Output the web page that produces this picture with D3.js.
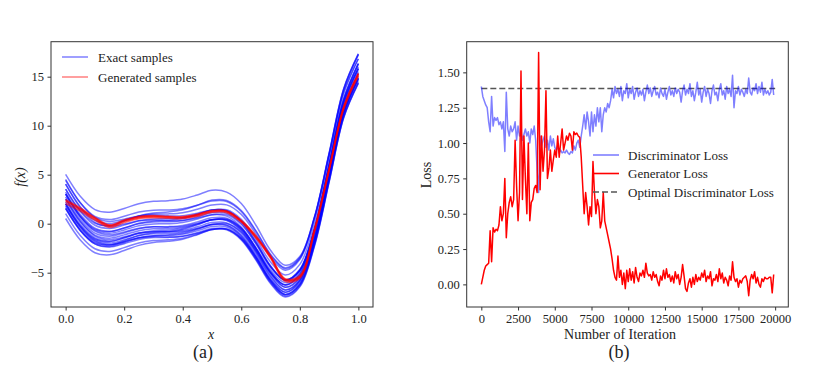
<!DOCTYPE html>
<html lang="en">
<head>
    <meta charset="UTF-8">
    <title>GAN samples and losses</title>
    <script src="https://d3js.org/d3.v7.min.js"></script>
    <style>
        body { margin: 0; background: #fff; }
        svg text { font-family: "Liberation Serif", "DejaVu Serif", serif; }
        .tick text { font-size: 12.5px; fill: #222; font-family: "Liberation Serif", serif; }
        .tick line { stroke: #333; }
        .lbl { font-size: 14px; fill: #222; }
        .leg { font-size: 13px; fill: #222; }
        .cap { font-size: 18px; fill: #222; }
    </style>
</head>
<body>
<script>
    // ---- left panel: samples of f(x) ----
    var xGrid = [0, 0.05, 0.1, 0.15, 0.2, 0.25, 0.3, 0.35, 0.4, 0.45, 0.5,
                 0.55, 0.6, 0.65, 0.7, 0.75, 0.8, 0.85, 0.9, 0.95, 1.0];

    var exactSamples = [
        [5.03, 2.79, 1.44, 1.17, 1.56, 2.04, 2.28, 2.35, 2.52, 2.93, 3.41, 3.22, 2.05, -0.16, -2.71, -4.24, -3.35, 0.65, 7.01, 13.45, 16.83],
        [0.53, -1.66, -2.96, -3.18, -2.74, -2.21, -1.92, -1.80, -1.58, -1.12, -0.59, -0.63, -1.65, -3.71, -6.11, -7.49, -6.45, -2.30, 4.21, 10.80, 14.33],
        [4.03, 1.74, 0.34, 0.02, 0.36, 0.79, 0.98, 1.00, 1.12, 1.48, 1.91, 1.92, 0.95, -1.06, -3.41, -4.74, -3.65, 0.55, 7.11, 13.75, 17.33],
        [3.53, 1.24, -0.16, -0.48, -0.14, 0.29, 0.48, 0.50, 0.62, 0.98, 1.41, 1.32, 0.25, -1.86, -4.31, -5.74, -4.75, -0.65, 5.81, 12.35, 15.83],
        [3.03, 0.69, -0.76, -1.13, -0.84, -0.46, -0.32, -0.35, -0.28, 0.03, 0.41, 0.47, -0.45, -2.41, -4.71, -5.99, -4.85, -0.60, 6.01, 12.70, 16.33],
        [2.53, 0.24, -1.16, -1.48, -1.14, -0.71, -0.52, -0.50, -0.38, -0.02, 0.41, 0.37, -0.65, -2.71, -5.11, -6.49, -5.45, -1.30, 5.21, 11.80, 15.33],
        [2.03, -0.21, -1.56, -1.83, -1.44, -0.96, -0.72, -0.65, -0.48, -0.07, 0.41, 0.42, -0.55, -2.56, -4.91, -6.24, -5.15, -0.95, 5.61, 12.25, 15.83],
        [1.53, -0.71, -2.06, -2.33, -1.94, -1.46, -1.22, -1.15, -0.98, -0.57, -0.09, -0.13, -1.15, -3.21, -5.61, -6.99, -5.95, -1.80, 4.71, 11.30, 14.83],
        [1.03, -1.21, -2.56, -2.83, -2.44, -1.96, -1.72, -1.65, -1.48, -1.07, -0.59, -0.58, -1.55, -3.56, -5.91, -7.24, -6.15, -1.95, 4.61, 11.25, 14.83],
        [4.53, 2.14, 0.64, 0.22, 0.46, 0.79, 0.88, 0.80, 0.82, 1.08, 1.41, 1.42, 0.45, -1.56, -3.91, -5.24, -4.15, 0.05, 6.61, 13.25, 16.83],
        [3.03, 0.74, -0.66, -0.98, -0.64, -0.21, -0.02, 0.00, 0.12, 0.48, 0.91, 0.77, -0.35, -2.51, -5.01, -6.49, -5.55, -1.50, 4.91, 11.40, 14.83],
        [2.03, -0.31, -1.76, -2.13, -1.84, -1.46, -1.32, -1.35, -1.28, -0.97, -0.59, -0.53, -1.45, -3.41, -5.71, -6.99, -5.85, -1.60, 5.01, 11.70, 15.33],
        [3.53, 1.34, 0.04, -0.18, 0.26, 0.79, 1.08, 1.20, 1.42, 1.88, 2.41, 2.37, 1.35, -0.71, -3.11, -4.49, -3.45, 0.70, 7.21, 13.80, 17.33],
        [2.53, 0.19, -1.26, -1.63, -1.34, -0.96, -0.82, -0.85, -0.78, -0.47, -0.09, 0.02, -0.85, -2.76, -5.01, -6.24, -5.05, -0.75, 5.91, 12.65, 16.33],
        [4.03, 1.64, 0.14, -0.28, -0.04, 0.29, 0.38, 0.30, 0.32, 0.58, 0.91, 0.92, -0.05, -2.06, -4.41, -5.74, -4.65, -0.45, 6.11, 12.75, 16.33],
        [1.53, -0.66, -1.96, -2.18, -1.74, -1.21, -0.92, -0.80, -0.58, -0.12, 0.41, 0.32, -0.75, -2.86, -5.31, -6.74, -5.75, -1.65, 4.81, 11.35, 14.83],
        [3.03, 0.79, -0.56, -0.83, -0.44, 0.04, 0.28, 0.35, 0.52, 0.93, 1.41, 1.32, 0.25, -1.86, -4.31, -5.74, -4.75, -0.65, 5.81, 12.35, 15.83],
        [2.03, -0.26, -1.66, -1.98, -1.64, -1.21, -1.02, -1.00, -0.88, -0.52, -0.09, -0.18, -1.25, -3.36, -5.81, -7.24, -6.25, -2.15, 4.31, 10.85, 14.33],
        [2.73, 0.44, -0.96, -1.28, -0.94, -0.51, -0.32, -0.30, -0.18, 0.18, 0.61, 0.57, -0.45, -2.51, -4.91, -6.29, -5.25, -1.10, 5.41, 12.00, 15.53],
        [2.23, -0.06, -1.46, -1.78, -1.44, -1.01, -0.82, -0.80, -0.68, -0.32, 0.11, 0.07, -0.95, -3.01, -5.41, -6.79, -5.75, -1.60, 4.91, 11.50, 15.03],
        [1.83, -0.46, -1.86, -2.18, -1.84, -1.41, -1.22, -1.20, -1.08, -0.72, -0.29, -0.33, -1.35, -3.41, -5.81, -7.19, -6.15, -2.00, 4.51, 11.10, 14.63],
        [3.23, 0.94, -0.46, -0.78, -0.44, -0.01, 0.18, 0.20, 0.32, 0.68, 1.11, 1.07, 0.05, -2.01, -4.41, -5.79, -4.75, -0.60, 5.91, 12.50, 16.03],
        [1.63, -0.66, -2.06, -2.38, -2.04, -1.61, -1.42, -1.40, -1.28, -0.92, -0.49, -0.53, -1.55, -3.61, -6.01, -7.39, -6.35, -2.20, 4.31, 10.90, 14.43],
        [4.43, 2.14, 0.74, 0.42, 0.76, 1.19, 1.38, 1.40, 1.52, 1.88, 2.31, 2.27, 1.25, -0.81, -3.21, -4.59, -3.55, 0.60, 7.11, 13.70, 17.23]
    ];

    var generatedSamples = [
        [2.25, 1.45, 0.50, -0.25, 0.25, 0.62, 0.72, 0.66, 0.62, 0.85, 1.25, 1.22, 0.25, -1.35, -3.40, -5.75, -5.45, -0.70, 5.50, 11.80, 15.20],
        [2.45, 1.62, 0.65, -0.12, 0.38, 0.74, 0.82, 0.76, 0.72, 0.95, 1.35, 1.30, 0.35, -1.22, -3.28, -5.62, -5.30, -0.55, 5.62, 11.95, 15.35],
        [2.05, 1.28, 0.36, -0.38, 0.12, 0.52, 0.62, 0.57, 0.53, 0.76, 1.16, 1.13, 0.15, -1.47, -3.52, -5.87, -5.58, -0.85, 5.38, 11.65, 15.05],
        [2.35, 1.50, 0.55, -0.20, 0.30, 0.68, 0.78, 0.70, 0.66, 0.90, 1.30, 1.26, 0.28, -1.30, -3.36, -5.70, -5.40, -0.65, 5.55, 11.88, 15.28]
    ];

    var fxTicksX = [0, 0.2, 0.4, 0.6, 0.8, 1.0];
    var fxTicksY = [-5, 0, 5, 10, 15];

    // ---- right panel: losses, one value every 100 iterations ----
    var lossStep = 100;
    var genLoss = [
        0.00, 0.05, 0.10, 0.13, 0.14, 0.15, 0.38, 0.16, 0.40, 0.37,
        0.39, 0.38, 0.42, 0.55, 0.45, 0.50, 0.75, 0.33, 0.50, 0.58,
        0.62, 0.55, 0.60, 1.02, 0.70, 0.45, 0.65, 1.51, 0.60, 1.05,
        0.75, 0.50, 1.00, 0.45, 0.58, 0.60, 0.68, 0.70, 0.65, 1.64,
        0.67, 1.05, 0.80, 0.95, 1.37, 0.75, 0.82, 0.95, 0.80, 0.88,
        0.95, 0.90, 1.05, 0.90, 1.00, 1.10, 0.95, 1.00, 1.05, 1.02,
        1.07, 1.05, 0.95, 1.08, 1.06, 1.07, 1.05, 1.04, 0.90, 0.70,
        0.50, 0.65, 0.55, 0.42, 0.55, 0.48, 0.87, 0.65, 0.50, 0.60,
        0.55, 0.40, 0.45, 0.65, 0.45, 0.40, 0.35, 0.30, 0.25, 0.18,
        0.10, 0.05, 0.03, 0.20, 0.05, 0.10, 0.00, 0.08, -0.03, 0.10,
        0.02, 0.11, 0.03, 0.09, 0.01, 0.12, 0.05, 0.02, 0.08, 0.06,
        0.10, 0.05, 0.15, 0.08, 0.06, 0.07, 0.03, 0.09, 0.05, 0.07,
        0.02, -0.01, 0.06, 0.03, 0.10, 0.04, 0.11, 0.05, 0.07, 0.02,
        0.06, 0.01, 0.09, 0.04, 0.07, 0.00, 0.05, 0.14, 0.06, -0.03,
        -0.05, 0.01, 0.04, -0.02, 0.05, 0.00, 0.07, 0.02, 0.05, 0.03,
        0.08, 0.05, 0.10, 0.02, 0.06, 0.04, 0.09, -0.01, 0.04, 0.03,
        0.07, 0.02, 0.11, 0.04, 0.08, 0.01, 0.05, 0.03, -0.01, 0.06,
        0.03, 0.16, 0.05, 0.02, 0.04, -0.02, 0.03, 0.01, 0.04, 0.05,
        0.06, 0.02, -0.08, 0.03, 0.07, 0.04, 0.09, 0.01, 0.05, 0.00,
        -0.02, 0.04, 0.02, 0.05, 0.04, 0.04, 0.05, 0.05, -0.06, 0.07
    ];
    var discLoss = [
        1.40, 1.33, 1.30, 1.27, 1.25, 1.15, 1.08, 1.33, 1.12, 1.18,
        1.16, 1.18, 1.13, 1.15, 1.10, 1.15, 0.94, 1.36, 1.10, 1.05,
        1.12, 1.08, 1.10, 1.15, 1.02, 1.12, 1.05, 1.08, 1.02, 1.06,
        1.10, 1.05, 1.08, 1.00, 1.10, 1.06, 1.12, 1.02, 0.80, 0.65,
        1.05, 0.98, 1.02, 1.05, 0.97, 1.02, 0.95, 1.05, 0.98, 1.03,
        0.97, 0.95, 0.98, 0.93, 0.95, 0.93, 0.94, 0.93, 0.95, 0.93,
        0.92, 0.94, 0.93, 0.98, 0.95, 1.00, 1.02, 0.97, 1.05, 1.12,
        1.20, 1.10, 1.22, 1.15, 1.05, 1.22, 1.08, 1.20, 1.12, 1.25,
        1.15, 1.25, 1.08, 1.20, 1.25, 1.22, 1.28, 1.25, 1.30, 1.38,
        1.32, 1.40, 1.35, 1.38, 1.33, 1.40, 1.30, 1.37, 1.35, 1.42,
        1.32, 1.38, 1.35, 1.40, 1.31, 1.36, 1.39, 1.33, 1.37, 1.34,
        1.38, 1.30, 1.36, 1.41, 1.35, 1.39, 1.33, 1.37, 1.40, 1.34,
        1.36, 1.32, 1.39, 1.35, 1.33, 1.38, 1.31, 1.36, 1.40, 1.34,
        1.37, 1.33, 1.39, 1.35, 1.38, 1.36, 1.29, 1.37, 1.41, 1.34,
        1.38, 1.35, 1.42, 1.33, 1.37, 1.30, 1.36, 1.43, 1.34, 1.38,
        1.29, 1.36, 1.40, 1.33, 1.38, 1.35, 1.28, 1.37, 1.41, 1.34,
        1.36, 1.30, 1.38, 1.42, 1.34, 1.37, 1.31, 1.40, 1.35, 1.38,
        1.33, 1.48, 1.25, 1.37, 1.35, 1.40, 1.34, 1.38, 1.36, 1.33,
        1.38, 1.35, 1.46, 1.36, 1.34, 1.39, 1.37, 1.42, 1.35, 1.40,
        1.36, 1.43, 1.34, 1.38, 1.35, 1.37, 1.34, 1.36, 1.45, 1.34
    ];
    var optimalLoss = 1.386;
    var lossTicksX = [0, 2500, 5000, 7500, 10000, 12500, 15000, 17500, 20000];
    var lossTicksY = [0, 0.25, 0.5, 0.75, 1.0, 1.25, 1.5];

    var w = 830, h = 372;
    var svg = d3.select("body").append("svg")
        .attr("width", w)
        .attr("height", h);

    var plotTop = 41.7, plotBottom = 307;

    // ================= left =================
    var xL = d3.scaleLinear().domain([-0.05, 1.05]).range([51, 373]);
    var yL = d3.scaleLinear().domain([-8.5, 18.57]).range([plotBottom, plotTop]);

    var lineL = d3.line()
        .x(function (d, i) { return xL(xGrid[i]); })
        .y(function (d) { return yL(d); })
        .curve(d3.curveCatmullRom.alpha(0.5));

    var gL = svg.append("g");
    gL.selectAll(".exact").data(exactSamples).enter().append("path")
        .attr("class", "exact")
        .attr("d", lineL)
        .attr("fill", "none")
        .attr("stroke", "blue")
        .attr("stroke-opacity", 0.5)
        .attr("stroke-width", 1.5);
    gL.selectAll(".gen").data(generatedSamples).enter().append("path")
        .attr("class", "gen")
        .attr("d", lineL)
        .attr("fill", "none")
        .attr("stroke", "red")
        .attr("stroke-opacity", 0.6)
        .attr("stroke-width", 1.6);

    gL.append("g")
        .attr("transform", "translate(0," + plotBottom + ")")
        .call(d3.axisBottom(xL).tickValues(fxTicksX).tickFormat(d3.format(".1f")).tickSize(3.5).tickPadding(3.5))
        .call(function (g) { g.select(".domain").remove(); });
    gL.append("g")
        .attr("transform", "translate(51,0)")
        .call(d3.axisLeft(yL).tickValues(fxTicksY).tickFormat(d3.format("d")).tickSize(3.5).tickPadding(3.5))
        .call(function (g) { g.select(".domain").remove(); });

    gL.append("rect")
        .attr("x", 51).attr("y", plotTop)
        .attr("width", 322).attr("height", plotBottom - plotTop)
        .attr("fill", "none").attr("stroke", "#333").attr("stroke-width", 1);

    gL.append("text").attr("class", "lbl")
        .attr("x", 211).attr("y", 339)
        .attr("text-anchor", "middle")
        .style("font-style", "italic")
        .text("x");
    gL.append("text").attr("class", "lbl")
        .attr("transform", "translate(25,177) rotate(-90)")
        .attr("text-anchor", "middle")
        .style("font-style", "italic")
        .text("f(x)");

    var legL = [{ name: "Exact samples", color: "blue" }, { name: "Generated samples", color: "red" }];
    legL.forEach(function (d, i) {
        var yy = 57 + i * 20;
        gL.append("line")
            .attr("x1", 62).attr("x2", 88).attr("y1", yy).attr("y2", yy)
            .attr("stroke", d.color).attr("stroke-opacity", 0.5).attr("stroke-width", 1.5);
        gL.append("text").attr("class", "leg")
            .attr("x", 98).attr("y", yy + 4.5)
            .text(d.name);
    });

    svg.append("text").attr("class", "cap")
        .attr("x", 203).attr("y", 358)
        .attr("text-anchor", "middle")
        .text("(a)");

    // ================= right =================
    var xR = d3.scaleLinear().domain([-995, 20895]).range([466.7, 788.3]);
    var yR = d3.scaleLinear().domain([-0.16, 1.717]).range([plotBottom, plotTop]);

    var lineR = d3.line()
        .x(function (d, i) { return xR(i * lossStep); })
        .y(function (d) { return yR(d); });

    var gR = svg.append("g");
    gR.append("line")
        .attr("x1", xR(0)).attr("x2", xR(20000))
        .attr("y1", yR(optimalLoss)).attr("y2", yR(optimalLoss))
        .attr("stroke", "#555").attr("stroke-width", 1.6)
        .attr("stroke-dasharray", "6,3");
    gR.append("path")
        .datum(discLoss)
        .attr("d", lineR)
        .attr("fill", "none")
        .attr("stroke", "blue").attr("stroke-opacity", 0.5)
        .attr("stroke-width", 1.5)
        .attr("stroke-linejoin", "round");
    gR.append("path")
        .datum(genLoss)
        .attr("d", lineR)
        .attr("fill", "none")
        .attr("stroke", "red")
        .attr("stroke-width", 1.5)
        .attr("stroke-linejoin", "round");

    gR.append("g")
        .attr("transform", "translate(0," + plotBottom + ")")
        .call(d3.axisBottom(xR).tickValues(lossTicksX).tickFormat(d3.format("d")).tickSize(3.5).tickPadding(3.5))
        .call(function (g) { g.select(".domain").remove(); });
    gR.append("g")
        .attr("transform", "translate(466.7,0)")
        .call(d3.axisLeft(yR).tickValues(lossTicksY).tickFormat(d3.format(".2f")).tickSize(3.5).tickPadding(3.5))
        .call(function (g) { g.select(".domain").remove(); });

    gR.append("rect")
        .attr("x", 466.7).attr("y", plotTop)
        .attr("width", 321.6).attr("height", plotBottom - plotTop)
        .attr("fill", "none").attr("stroke", "#333").attr("stroke-width", 1);

    gR.append("text").attr("class", "lbl")
        .attr("x", 620).attr("y", 339)
        .attr("text-anchor", "middle")
        .text("Number of Iteration");
    gR.append("text").attr("class", "lbl")
        .attr("transform", "translate(431,175) rotate(-90)")
        .attr("text-anchor", "middle")
        .text("Loss");

    var legR = [
        { name: "Discriminator Loss", color: "blue", op: 0.5, dash: null },
        { name: "Generator Loss", color: "red", op: 1, dash: null },
        { name: "Optimal Discriminator Loss", color: "#555", op: 1, dash: "6,3" }
    ];
    legR.forEach(function (d, i) {
        var yy = 155 + i * 18.5;
        gR.append("line")
            .attr("x1", 593).attr("x2", 619).attr("y1", yy).attr("y2", yy)
            .attr("stroke", d.color).attr("stroke-opacity", d.op).attr("stroke-width", 1.6)
            .attr("stroke-dasharray", d.dash);
        gR.append("text").attr("class", "leg")
            .attr("x", 628).attr("y", yy + 4.5)
            .text(d.name);
    });

    svg.append("text").attr("class", "cap")
        .attr("x", 619).attr("y", 358)
        .attr("text-anchor", "middle")
        .text("(b)");
</script>
</body>
</html>
